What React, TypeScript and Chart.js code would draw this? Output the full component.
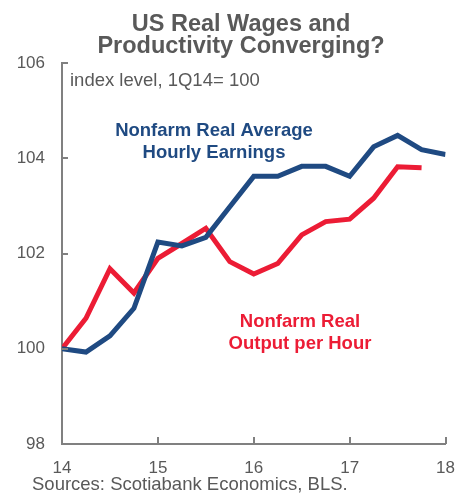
import React, { useEffect, useRef } from "react";
import { Chart, registerables } from "chart.js";

Chart.register(...registerables);

const quarters = [14, 14.25, 14.5, 14.75, 15, 15.25, 15.5, 15.75, 16, 16.25, 16.5, 16.75, 17, 17.25, 17.5, 17.75, 18];
const earnings = [100.0, 99.93, 100.27, 100.85, 102.24, 102.16, 102.34, 102.98, 103.62, 103.62, 103.83, 103.83, 103.62, 104.24, 104.48, 104.18, 104.08];
const output = [100.0, 100.64, 101.68, 101.17, 101.9, 102.21, 102.53, 101.83, 101.57, 101.79, 102.39, 102.67, 102.72, 103.16, 103.82, 103.8];
const yTicks = [98, 100, 102, 104, 106];
const xTicks = [14, 15, 16, 17, 18];

const titleLines = ["US Real Wages and", "Productivity Converging?"];
const subtitle = "index level, 1Q14= 100";
const source = "Sources: Scotiabank Economics, BLS.";
const blueLabel = ["Nonfarm Real Average", "Hourly Earnings"];
const redLabel = ["Nonfarm Real", "Output per Hour"];

const FONT = "'Liberation Sans', Arial, sans-serif";
const GRAY = "#595959";
const AXIS = "#808080";
const BLUE = "#1F4A82";
const RED = "#EC1C35";

const decor = {
  id: "decor",
  afterDraw(chart: any) {
    const ctx = chart.ctx;
    const xs = chart.scales.x;
    const ys = chart.scales.y;
    const area = chart.chartArea;
    ctx.save();
    // inward ticks
    ctx.strokeStyle = AXIS;
    ctx.lineWidth = 2;
    yTicks.forEach((v) => {
      const y = Math.round(ys.getPixelForValue(v));
      ctx.beginPath();
      ctx.moveTo(area.left, y);
      ctx.lineTo(area.left + 6, y);
      ctx.stroke();
    });
    xTicks.forEach((v) => {
      const x = Math.round(xs.getPixelForValue(v));
      ctx.beginPath();
      ctx.moveTo(x, area.bottom);
      ctx.lineTo(x, area.bottom - 7);
      ctx.stroke();
    });
    // title
    ctx.fillStyle = GRAY;
    ctx.textAlign = "center";
    ctx.textBaseline = "alphabetic";
    ctx.font = `bold 23.5px ${FONT}`;
    ctx.fillText(titleLines[0], 241, 31);
    ctx.fillText(titleLines[1], 241, 53);
    // subtitle
    ctx.textAlign = "left";
    ctx.font = `18.5px ${FONT}`;
    ctx.fillText(subtitle, 70, 86);
    // source
    ctx.font = `18.5px ${FONT}`;
    ctx.fillText(source, 32, 490);
    // annotations
    ctx.textAlign = "center";
    ctx.textBaseline = "middle";
    ctx.font = `bold 18.5px ${FONT}`;
    ctx.fillStyle = BLUE;
    ctx.fillText(blueLabel[0], 214, 131);
    ctx.fillText(blueLabel[1], 214, 153);
    ctx.fillStyle = RED;
    ctx.fillText(redLabel[0], 300, 322);
    ctx.fillText(redLabel[1], 300, 344);
    ctx.restore();
  },
};

export default function App() {
  const ref = useRef<HTMLCanvasElement>(null);
  useEffect(() => {
    document.body.style.margin = "0";
    const chart = new Chart(ref.current!, {
      type: "line",
      data: {
        datasets: [
          {
            label: "Nonfarm Real Average Hourly Earnings",
            data: earnings.map((v, i) => ({ x: quarters[i], y: v })),
            borderColor: BLUE,
            borderWidth: 5,
            pointRadius: 0,
            tension: 0,
            borderJoinStyle: "miter",
          },
          {
            label: "Nonfarm Real Output per Hour",
            data: output.map((v, i) => ({ x: quarters[i], y: v })),
            borderColor: RED,
            borderWidth: 5,
            pointRadius: 0,
            tension: 0,
            borderJoinStyle: "miter",
          },
        ],
      },
      options: {
        animation: false,
        responsive: false,
        layout: { padding: { top: 63, right: 23, left: 0, bottom: 0 } },
        plugins: { legend: { display: false }, tooltip: { enabled: false } },
        scales: {
          x: {
            type: "linear",
            min: 14,
            max: 18,
            afterFit: (s: any) => { s.height = 51; },
            grid: { display: false, drawTicks: false },
            border: { display: true, color: AXIS, width: 2 },
            ticks: {
              stepSize: 1,
              padding: 14,
              color: GRAY,
              font: { family: FONT, size: 17 },
              maxRotation: 0,
              callback: (v: any) => String(v),
            },
          },
          y: {
            min: 98,
            max: 106,
            afterFit: (s: any) => { s.width = 62; },
            grid: { display: false, drawTicks: false },
            border: { display: true, color: AXIS, width: 2 },
            ticks: {
              stepSize: 2,
              padding: 17,
              color: GRAY,
              font: { family: FONT, size: 17 },
            },
          },
        },
      },
      plugins: [decor],
    } as any);
    return () => chart.destroy();
  }, []);
  return <canvas ref={ref} width={469} height={495} style={{ display: "block" }} />;
}
